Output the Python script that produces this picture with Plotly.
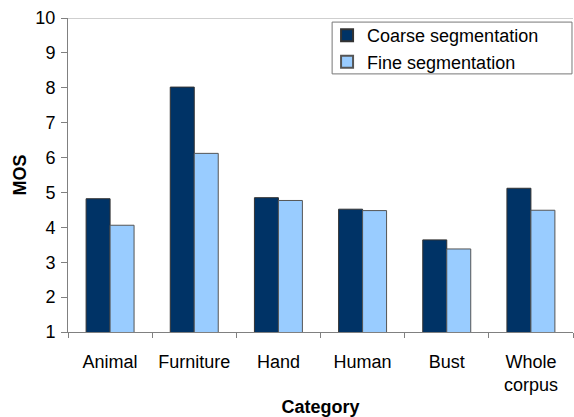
import plotly.graph_objects as go

categories = ["Animal", "Furniture", "Hand", "Human", "Bust", "Whole<br>corpus"]
coarse = [4.82, 8.02, 4.85, 4.52, 3.64, 5.12]
fine = [4.06, 6.12, 4.77, 4.48, 3.38, 4.49]
y_ticks = [1, 2, 3, 4, 5, 6, 7, 8, 9, 10]

FAM = "Liberation Sans, Arial, sans-serif"
font = dict(family=FAM, size=18, color="black")

fig = go.Figure()
fig.add_trace(go.Bar(x=categories, y=coarse, name="Coarse segmentation",
                     marker=dict(color="#003366", line=dict(color="#333333", width=1))))
fig.add_trace(go.Bar(x=categories, y=fine, name="Fine segmentation",
                     marker=dict(color="#99CCFF", line=dict(color="#555555", width=1))))

fig.update_layout(
    width=574, height=417,
    margin=dict(l=68, r=1, t=18, b=85),
    paper_bgcolor="white", plot_bgcolor="white",
    font=font,
    barmode="group", bargap=0.43, bargroupgap=0,
    showlegend=True,
    legend=dict(x=0.513, y=1.003, xanchor="left", yanchor="top",
                borderwidth=0, bgcolor="rgba(0,0,0,0)",
                font=dict(family=FAM, size=18, color="black"),
                tracegroupgap=0, itemsizing="constant"),
    xaxis=dict(showline=True, linecolor="#808080", linewidth=1,
               ticks="outside", tickson="boundaries", ticklen=5, tickcolor="#808080",
               showgrid=False, tickfont=font, ticklabelstandoff=13,
               title=dict(text="<b>Category</b>", font=dict(family=FAM, size=18, color="black"), standoff=7)),
    yaxis=dict(range=[1, 10], tickvals=y_ticks, showline=True, linecolor="#808080", linewidth=1,
               ticks="outside", ticklen=6, tickcolor="#808080", showgrid=False, zeroline=False,
               tickfont=dict(family=FAM, size=18, color="black"), ticklabelstandoff=2,
               title=dict(text="<b>MOS</b>", font=dict(family=FAM, size=18, color="black"), standoff=4)),
    shapes=[
        dict(type="line", xref="paper", yref="y", x0=0, x1=1, y0=10, y1=10,
             line=dict(color="#a0a0a0", width=1)),
        dict(type="rect", xref="paper", yref="paper", x0=0.523, x1=0.998, y0=0.822, y1=0.987,
             line=dict(color="#777777", width=1), fillcolor="white", layer="below"),
    ],
)

fig.write_html("out.html")
